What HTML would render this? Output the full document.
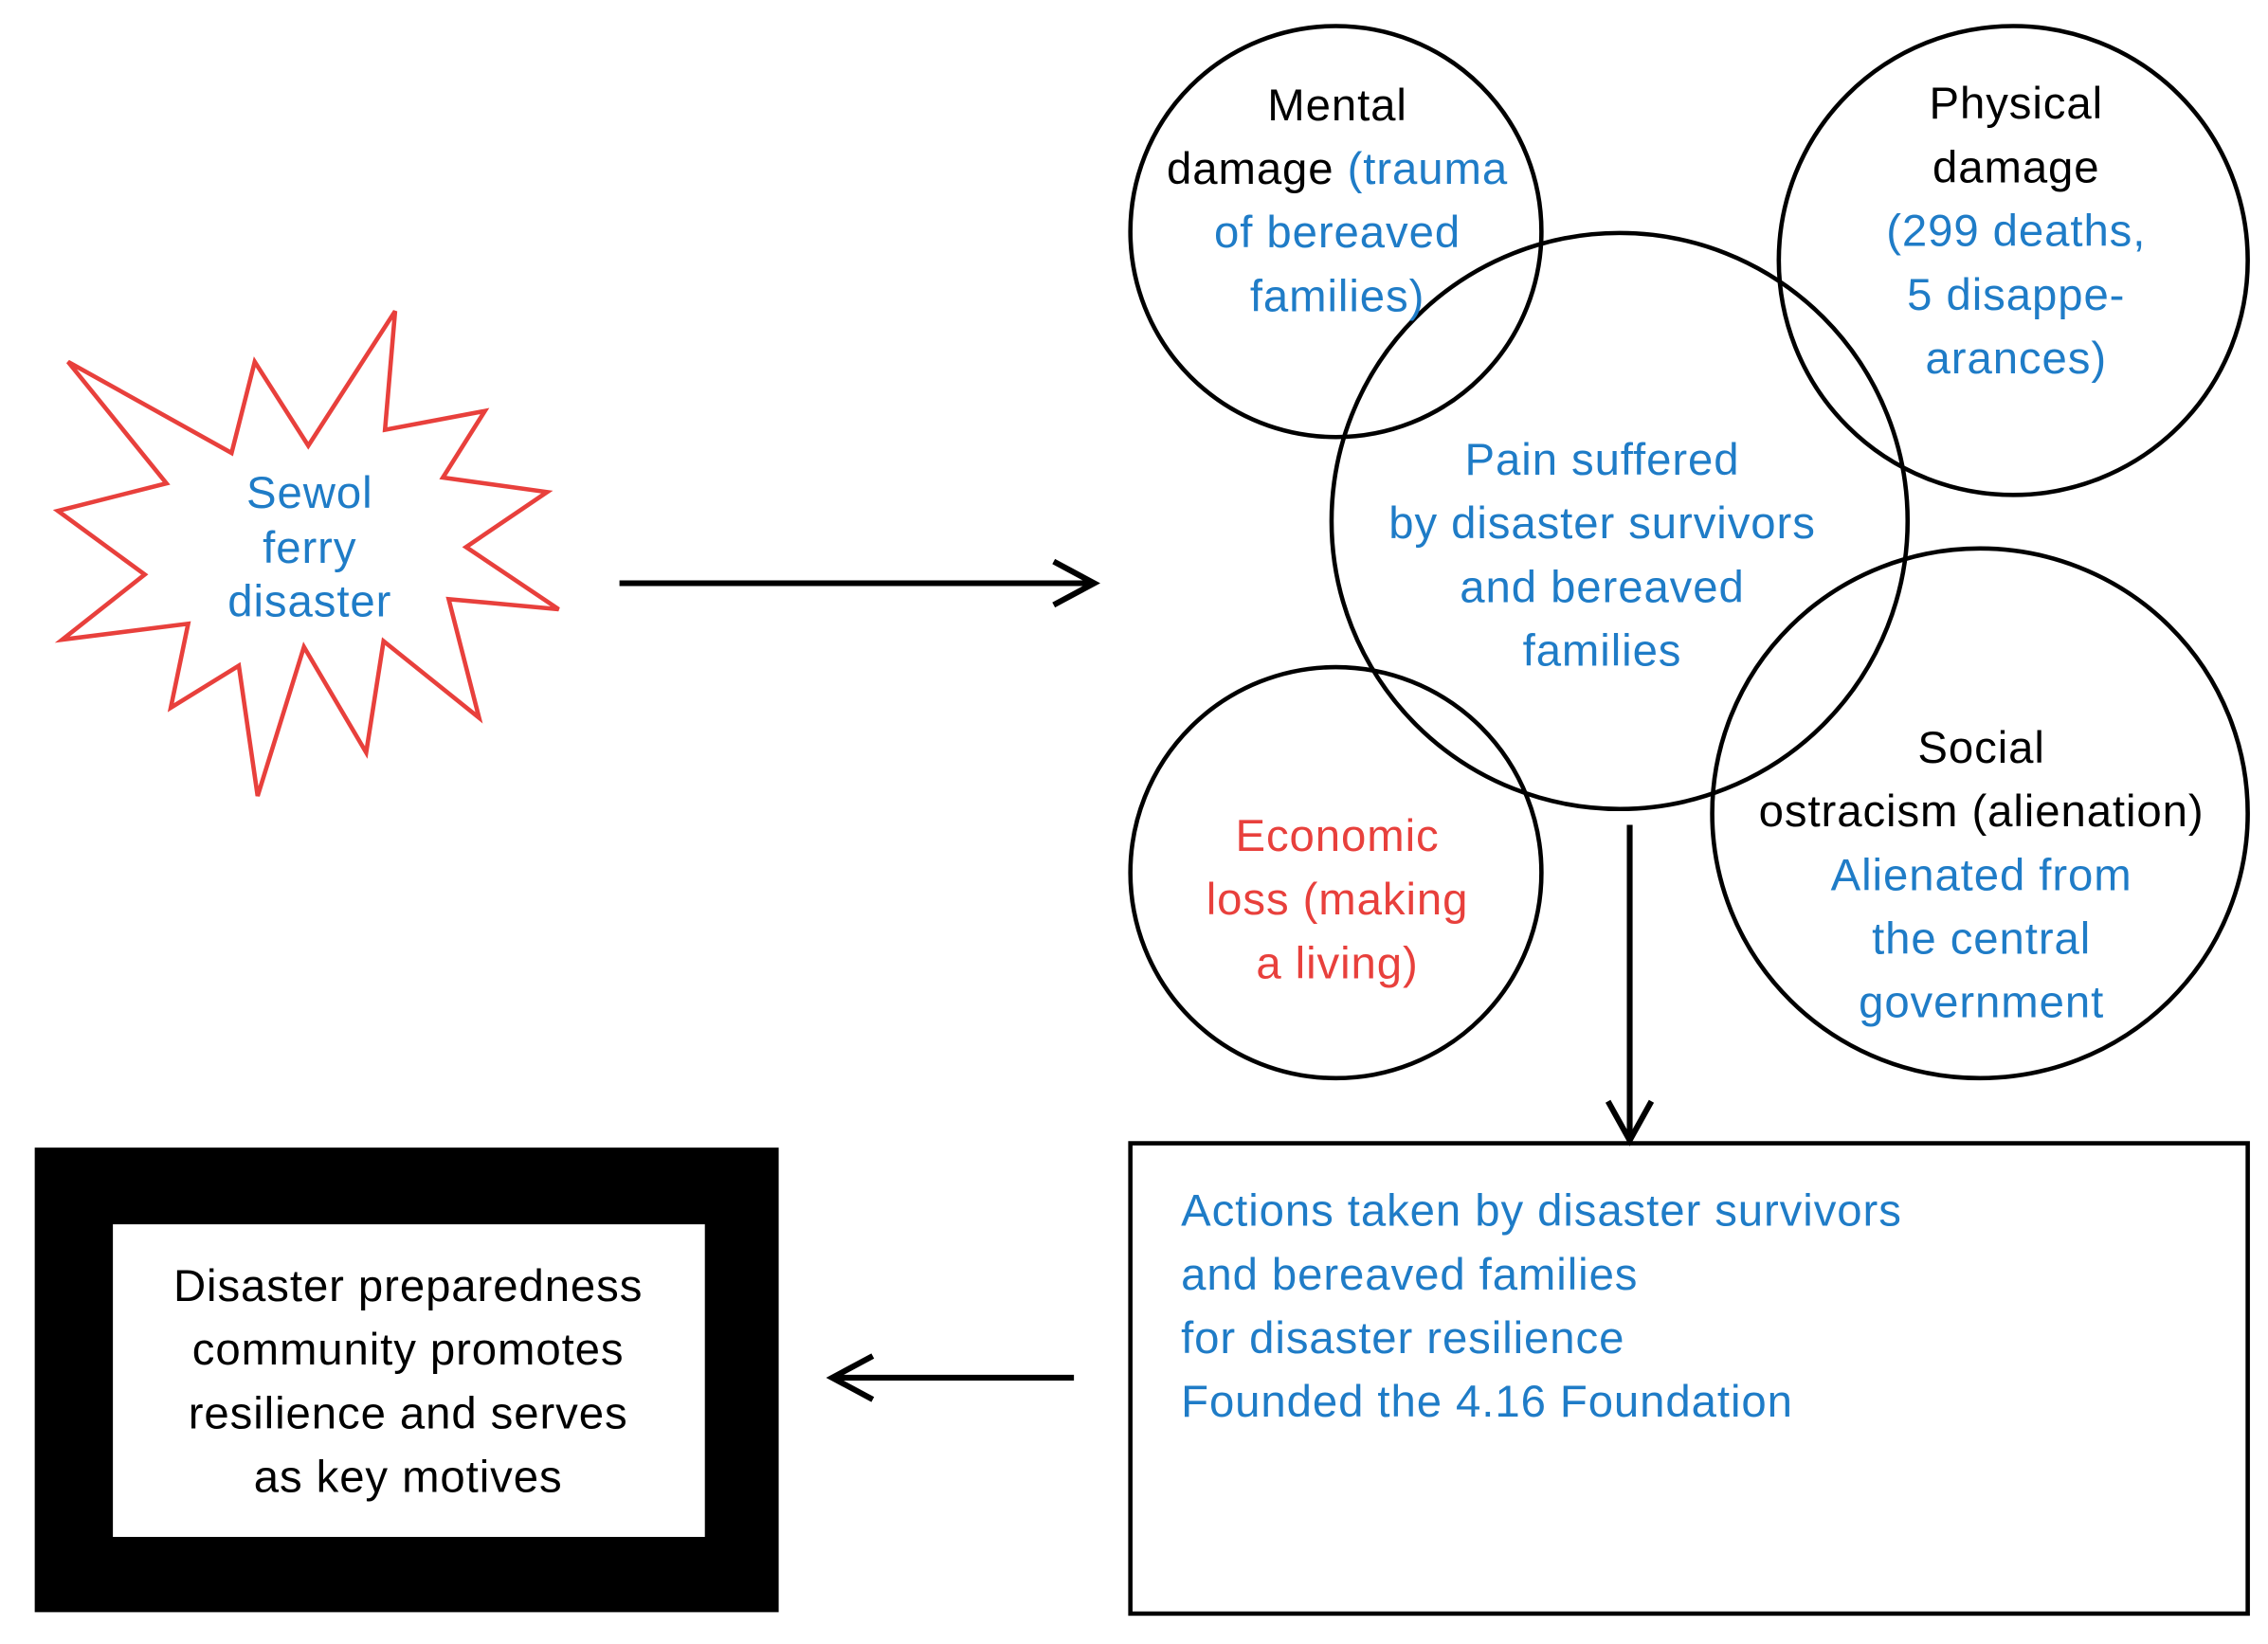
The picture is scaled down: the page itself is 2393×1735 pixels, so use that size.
<!DOCTYPE html>
<html><head><style>html,body{margin:0;padding:0;background:#fff}svg{display:block}</style></head>
<body>
<svg width="2393" height="1735" viewBox="0 0 1567 1136" preserveAspectRatio="none" xmlns="http://www.w3.org/2000/svg" font-family="Liberation Sans, Arial, sans-serif" font-size="31" letter-spacing="0.6" text-anchor="middle">
<rect width="1567" height="1136" fill="#fff"/>
<polygon points="47,250 160,313 176,250 213,308 273,215 266,297 335,284 306,330 378,340 322,378 386,421 310,414 331,496 265,443 253,520 210,447 178,550 165,460 118,489 130,431 43,442 100,397 40,353 115,334" fill="none" stroke="#e8403c" stroke-width="3"/>
<g fill="#1f7cc7"><text x="214" y="351">Sewol</text><text x="214" y="389">ferry</text><text x="214" y="426">disaster</text></g>

<g fill="none" stroke="#000" stroke-width="3">
<circle cx="923" cy="160" r="142"/>
<circle cx="1391" cy="180" r="162"/>
<circle cx="1119" cy="360" r="199"/>
<circle cx="923" cy="603" r="142"/>
<ellipse cx="1368" cy="562" rx="185" ry="183"/>
<line x1="428" y1="403" x2="755" y2="403" stroke-width="4"/>
<polyline points="728,388 756,403 728,418" stroke-width="4"/>
<line x1="1126" y1="570" x2="1126" y2="788" stroke-width="4"/>
<polyline points="1111,761 1126,788 1141,761" stroke-width="4"/>
<line x1="742" y1="952" x2="575" y2="952" stroke-width="4"/>
<polyline points="603,937 575,952 603,967" stroke-width="4"/>
<rect x="781" y="790" width="772" height="325"/>
</g>
<rect x="24" y="793" width="514" height="321" fill="#000"/>
<rect x="78" y="846" width="409" height="216" fill="#fff"/>

<text x="924" y="83" fill="#000">Mental</text>
<text x="924" y="127"><tspan fill="#000">damage </tspan><tspan fill="#1f7cc7">(trauma</tspan></text>
<text x="924" y="171" fill="#1f7cc7">of bereaved</text>
<text x="924" y="215" fill="#1f7cc7">families)</text>

<text x="1393" y="82" fill="#000">Physical</text>
<text x="1393" y="126" fill="#000">damage</text>
<text x="1393" y="170" fill="#1f7cc7">(299 deaths,</text>
<text x="1393" y="214" fill="#1f7cc7">5 disappe-</text>
<text x="1393" y="258" fill="#1f7cc7">arances)</text>

<g fill="#1f7cc7">
<text x="1107" y="328">Pain suffered</text>
<text x="1107" y="372">by disaster survivors</text>
<text x="1107" y="416">and bereaved</text>
<text x="1107" y="460">families</text>
</g>

<g fill="#e8403c">
<text x="924" y="588">Economic</text>
<text x="924" y="632">loss (making</text>
<text x="924" y="676">a living)</text>
</g>

<text x="1369" y="527" fill="#000">Social</text>
<text x="1369" y="571" fill="#000">ostracism (alienation)</text>
<g fill="#1f7cc7">
<text x="1369" y="615">Alienated from</text>
<text x="1369" y="659">the central</text>
<text x="1369" y="703">government</text>
</g>

<g fill="#1f7cc7" text-anchor="start">
<text x="816" y="847">Actions taken by disaster survivors</text>
<text x="816" y="891">and bereaved families</text>
<text x="816" y="935">for disaster resilience</text>
<text x="816" y="979">Founded the 4.16 Foundation</text>
</g>

<g fill="#000">
<text x="282" y="899">Disaster preparedness</text>
<text x="282" y="943">community promotes</text>
<text x="282" y="987">resilience and serves</text>
<text x="282" y="1031">as key motives</text>
</g>
</svg>
</body></html>
